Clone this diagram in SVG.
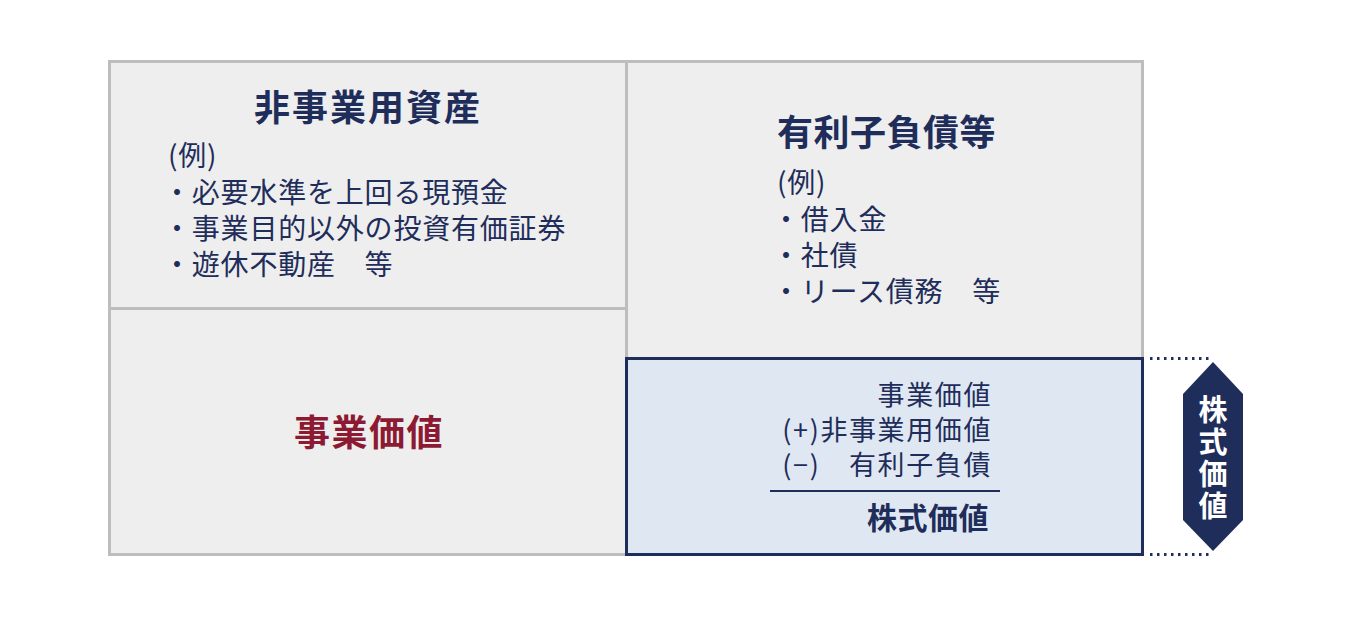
<svg xmlns="http://www.w3.org/2000/svg" width="1350" height="617" viewBox="0 0 1350 617">
<style>
.box{fill:#eeeeee;stroke:#bdbdbd;stroke-width:3}
.blue{fill:#dfe8f2;stroke:#1f2d5a;stroke-width:3}
text{font-family:"Noto Sans CJK JP","Noto Sans",sans-serif;fill:#1f2d5a}
.h{font-size:36px;font-weight:bold;letter-spacing:1px}
.t{font-size:28px;letter-spacing:0.8px}
.c{font-size:27px;letter-spacing:1.6px;text-anchor:end}
.dot{stroke:#1f2d5a;stroke-width:3;stroke-dasharray:2.5 4.5;fill:none}
</style>
<rect width="1350" height="617" fill="#ffffff"/>
<g id="non-operating-assets">
<rect class="box" x="109.500" y="61.500" width="517" height="247"/>
<text class="h" x="368" y="121" text-anchor="middle" style="letter-spacing:2px">非事業用資産</text>
<text class="t"><tspan x="168" y="166">(例)</tspan><tspan x="163" y="203">・必要水準を上回る現預金</tspan><tspan x="163" y="239">・事業目的以外の投資有価証券</tspan><tspan x="163" y="275">・遊休不動産　等</tspan></text>
</g>
<g id="business-value">
<rect class="box" x="109.500" y="308.500" width="517" height="246"/>
<text class="h" x="369" y="446" text-anchor="middle" style="fill:#8c1a32;letter-spacing:1.5px">事業価値</text>
</g>
<g id="debt">
<rect class="box" x="626.500" y="61.500" width="516" height="297"/>
<text class="h" x="777" y="146" style="letter-spacing:0.5px">有利子負債等</text>
<text class="t"><tspan x="777" y="193">(例)</tspan><tspan x="772" y="230">・借入金</tspan><tspan x="772" y="266">・社債</tspan><tspan x="772" y="302">・リース債務　等</tspan></text>
</g>
<g id="equity-calc">
<rect class="blue" x="626.500" y="358.500" width="516" height="196"/>
<text class="c"><tspan x="992" y="405">事業価値</tspan><tspan x="992" y="440">(+)非事業用価値</tspan><tspan x="992" y="475">(−)　有利子負債</tspan></text>
<line x1="770" y1="491" x2="1000" y2="491" stroke="#1f2d5a" stroke-width="2"/>
<text x="989" y="529" style="font-size:30px;font-weight:bold;letter-spacing:0.5px;text-anchor:end">株式価値</text>
</g>
<g id="connectors">
<line class="dot" x1="1150" y1="358.500" x2="1212" y2="358.500"/>
<line class="dot" x1="1150" y1="554.500" x2="1212" y2="554.500"/>
</g>
<g id="equity-value-badge">
<polygon points="1213,362 1243,394 1243,520 1213,551 1183,520 1183,394" fill="#1f2d5a"/>
<text x="1213" y="459" writing-mode="vertical-rl" text-anchor="middle" style="fill:#ffffff;font-size:29px;font-weight:bold;letter-spacing:3px">株式価値</text>
</g>
</svg>
